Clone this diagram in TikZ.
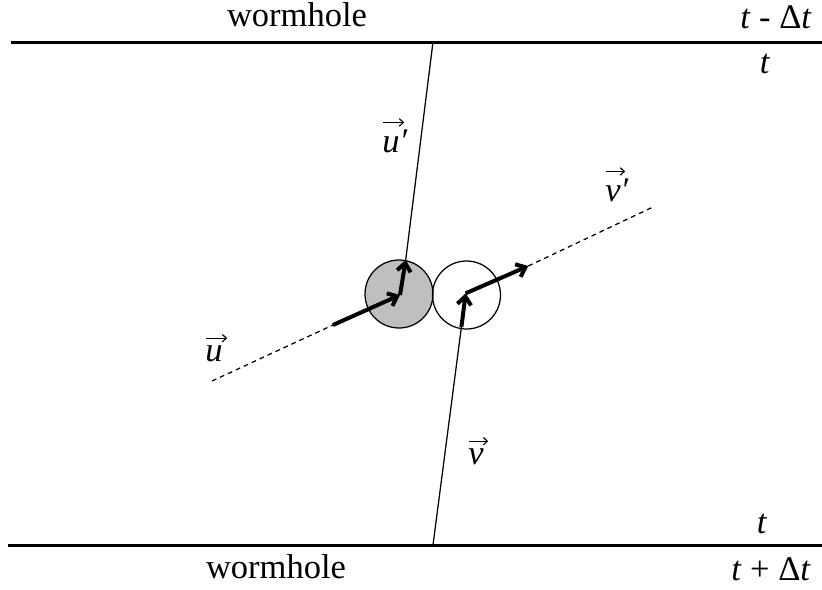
\documentclass[tikz,border=0pt]{standalone}
\usepackage{fontspec}
\setmainfont{Liberation Serif}
\usetikzlibrary{arrows.meta, positioning}

\begin{document}
\begin{tikzpicture}[
  x=0.4pt, y=-0.4pt,
  font=\fontsize{13.8}{16}\selectfont,
  wall/.style={line width=1.2pt},
  track/.style={line width=0.5pt},
  trail/.style={line width=0.5pt, dash pattern=on 1.9pt off 1.6pt},
  velo/.style={line width=1.6pt, -{Straight Barb[length=3.3pt, width=5.5pt]}},
  ball/.style={circle, draw, line width=0.5pt, minimum size=27.2pt, inner sep=0pt},
  letter/.style={anchor=base, inner sep=0pt},
  vecbar/.style={line width=0.45pt, -{Straight Barb[length=1.6pt, width=3pt]}},
]
  \useasboundingbox (0,0) rectangle (822,589);

  % the two wormhole mouths
  \coordinate (wl1) at (11,42);
  \coordinate (wr1) at (822,42);
  \coordinate (wl2) at (8,545);
  \coordinate (wr2) at (822,545);
  \draw[wall] (wl1) -- (wr1);
  \draw[wall] (wl2) -- (wr2);
  \node[anchor=base] (hole1) at (297,26.5) {wormhole};
  \node[anchor=base] (hole2) at (276,578) {wormhole};
  \node[anchor=base] (time1) at (776,28) {\textit{t} - Δ\textit{t}};
  \node[anchor=base] (time2) at (765,73) {\textit{t}};
  \node[anchor=base] (time3) at (762,533) {\textit{t}};
  \node[anchor=base] (time4) at (771,580) {\textit{t} + Δ\textit{t}};

  % the two balls
  \node[ball, fill=black!25] (ballu) at (399,294) {};
  \node[ball] (ballv) at (466.5,295) {};

  % ball u comes in and leaves up through the top mouth
  \coordinate (u0) at (212,381);
  \coordinate (u1) at (333,325);
  \coordinate (hitu) at (400,295);
  \coordinate (u2) at (405.7,260);
  \coordinate (u3) at (433,42);
  \draw[trail] (u0) -- (u1);
  \draw[velo] (u1) -- (hitu);
  \draw[velo] (hitu) -- (u2);
  \draw[track] (u2) -- (u3);

  % ball v comes up from the bottom mouth and leaves to the right
  \coordinate (v0) at (433,545);
  \coordinate (v1) at (461.4,327);
  \coordinate (hitv) at (465.7,293.3);
  \coordinate (v2) at (528.3,266);
  \coordinate (v3) at (653,207);
  \draw[track] (v0) -- (v1);
  \draw[velo] (v1) -- (hitv);
  \draw[velo] (hitv) -- (v2);
  \draw[trail] (v2) -- (v3);

  % velocity labels, each with its little arrow on top
  \node[letter] (labu) at (214,361) {\textit{u}};
  \node[letter] (labu2) at (391,152) {\textit{u}\rlap{\textit{′}}};
  \node[letter] (labv) at (476,464) {\textit{v}};
  \node[letter] (labv2) at (613,201) {\textit{v}\rlap{\textit{′}}};
  \foreach \lab in {labu, labu2, labv, labv2}
    \draw[vecbar] ([xshift=0.3pt, yshift=2.6pt]\lab.north west)
      -- ([xshift=1.6pt, yshift=2.6pt]\lab.north east);
\end{tikzpicture}
\end{document}
